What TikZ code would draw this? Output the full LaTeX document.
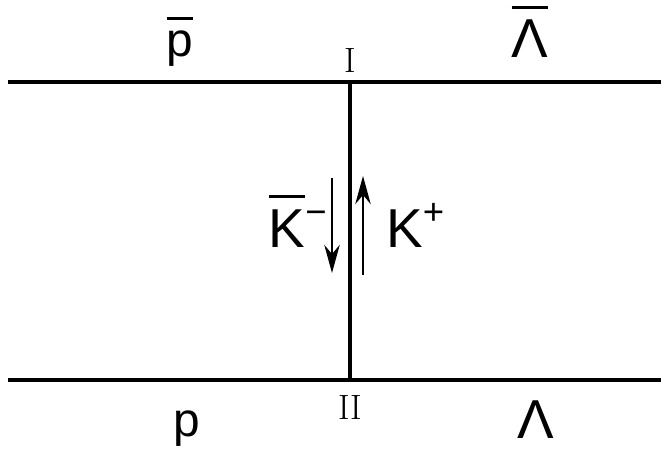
\documentclass[tikz,border=0pt]{standalone}
\usepackage{fontspec}
\setsansfont{Liberation Sans}
\usetikzlibrary{arrows.meta}

% overbar for antiparticles, set apart from the letter
\newcommand{\antibar}[1]{\leavevmode\vbox{\hrule height 2.4pt\kern 8pt\hbox{#1}}}
\newcommand{\charge}[1]{\raisebox{16pt}{\fontsize{26}{28}\selectfont #1}}

\tikzset{
  particle/.style={font=\sffamily\fontsize{39}{42}\selectfont, inner sep=0pt},
  smallparticle/.style={font=\sffamily\fontsize{34}{38}\selectfont, inner sep=0pt},
  vertexlabel/.style={font=\rmfamily\fontsize{25}{28}\selectfont, inner sep=0pt},
  baryon/.style={line width=2.2pt},
  exchange/.style={line width=2.2pt},
  kaonarrow/.style={line width=1.5pt, -{Stealth[length=20pt,width=11pt]}}
}

\begin{document}
\begin{tikzpicture}[x=0.025cm, y=-0.025cm]
    \useasboundingbox (0,0) rectangle (661,451);

    % Baryon lines and vertices
    \coordinate (topL) at (8,82);
    \coordinate (topR) at (661,82);
    \coordinate (botL) at (8,380);
    \coordinate (botR) at (661,380);
    \coordinate (v1) at (350,82);
    \coordinate (v2) at (350,380);
    \draw[baryon] (topL) -- (topR);
    \draw[baryon] (botL) -- (botR);

    % Kaon exchange
    \draw[exchange] (v1) -- (v2);

    % Vertex labels
    \node[vertexlabel] (lI) at (350,60) {I};
    \node[vertexlabel] (lII) at (350,407) {II};

    % Particle labels
    \node[smallparticle, anchor=base] (pbar) at (180,57) {\antibar{p}};
    \node[particle, anchor=base] (lambar) at (530,58) {\antibar{Λ}};
    \node[smallparticle, anchor=base] (p) at (187,436) {p};
    \node[particle, anchor=base] (lam) at (536,438) {Λ};

    % Kaon arrows
    \coordinate (kmA) at (332,178);
    \coordinate (kmB) at (332,273);
    \coordinate (kpA) at (363,275);
    \coordinate (kpB) at (363,176);
    \draw[kaonarrow] (kmA) -- (kmB);
    \draw[kaonarrow] (kpA) -- (kpB);
    \node[particle, anchor=base east] (km) at (327,247) {\antibar{K}\charge{−}};
    \node[particle, anchor=base west] (kp) at (386,247) {K\charge{+}};
\end{tikzpicture}
\end{document}
